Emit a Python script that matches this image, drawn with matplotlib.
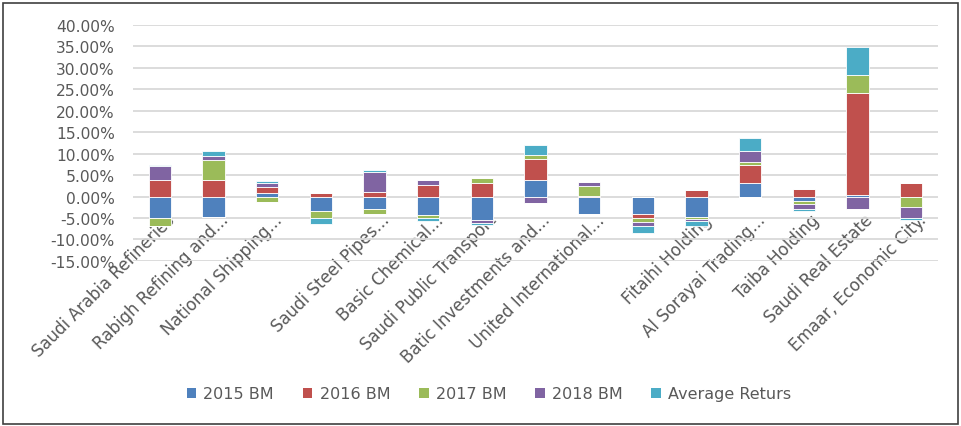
import numpy as np
import matplotlib
matplotlib.use("Agg")
import matplotlib.pyplot as plt
import matplotlib.transforms as mtransforms
from matplotlib.patches import Patch, Rectangle
from matplotlib.ticker import FuncFormatter

# ==============================
# Data (values in %)
# ==============================
companies = ["Saudi Arabia Refineries", "Rabigh Refining and...", "National Shipping...", "",
             "Saudi Steel Pipes...", "Basic Chemical...", "Saudi Public Transport",
             "Batic Investments and...", "United International...", "", "Fitaihi Holding",
             "Al Sorayai Trading...", "Taiba Holding", "Saudi Real Estate", "Emaar, Economic City."]

bm_2015 = [-5.0, -4.8, 0.9, -3.3, -3.0, -4.3, -5.5, 3.9, -4.0, -4.0, -4.7, 3.1, -1.1, 0.45, 0.0]
bm_2016 = [3.8, 3.8, 1.3, 0.9, 1.0, 2.8, 3.1, 4.75, 0.2, -1.0, 1.6, 4.3, 1.8, 23.6, 3.2]
bm_2017 = [-1.8, 4.75, -1.2, -1.75, -1.1, -0.75, 1.25, 1.1, 2.3, -1.0, -0.5, 0.6, -0.65, 4.3, -2.4]
bm_2018 = [3.4, 0.8, 0.95, 0.0, 4.7, 1.15, -0.7, -1.6, 0.8, -0.9, -0.4, 2.7, -1.2, -2.9, -2.6]
avg_returns = [0.2, 1.25, 0.45, -1.35, 0.4, -0.7, -0.4, 2.3, -0.15, -1.6, -1.15, 2.9, -0.5, 6.6, -0.45]

series_names = ["2015 BM", "2016 BM", "2017 BM", "2018 BM", "Average Returs"]
colors = ["#4F81BD", "#C0504D", "#9BBB59", "#8064A2", "#4BACC6"]

# ==============================
# Figure
# ==============================
plt.rcParams['font.family'] = ['DejaVu Sans']
fig = plt.figure(figsize=(9.62, 4.27), dpi=100)
ax = fig.add_axes([133 / 962, 1 - 261.9 / 427, 805 / 962, 236 / 427])

x = np.arange(len(companies))
pos_base = np.zeros(len(companies))
neg_base = np.zeros(len(companies))
for vals, name, col in zip([bm_2015, bm_2016, bm_2017, bm_2018, avg_returns], series_names, colors):
    v = np.array(vals)
    pos = np.where(v > 0, v, 0)
    neg = np.where(v < 0, v, 0)
    ax.bar(x, pos, bottom=pos_base, width=0.41, color=col, edgecolor="white", linewidth=0.6, zorder=3)
    ax.bar(x, neg, bottom=neg_base, width=0.41, color=col, edgecolor="white", linewidth=0.6, zorder=3)
    pos_base += pos
    neg_base += neg

ax.set_xlim(-0.5, len(companies) - 0.5)
ax.set_ylim(-15, 40)
ax.set_yticks(np.arange(-15, 41, 5))
ax.yaxis.set_major_formatter(FuncFormatter(lambda v, p: f"{v:.2f}%"))
ax.grid(axis="y", color="#d9d9d9", linewidth=1.3, zorder=0)
ax.set_axisbelow(True)

for s in ["top", "right", "left"]:
    ax.spines[s].set_visible(False)
# category labels sit under the zero line, like Excel
ax.spines["bottom"].set_position(("data", 0))
ax.spines["bottom"].set_visible(False)

ax.set_xticks(x)
ax.set_xticklabels(companies)
ax.tick_params(axis="x", length=0, pad=10, labelsize=12, labelcolor="#595959")
ax.tick_params(axis="y", length=0, pad=13, labelsize=11.2, labelcolor="#595959")
shift = mtransforms.ScaledTranslation(6 / 100, 0, fig.dpi_scale_trans)
for lab in ax.get_xticklabels():
    lab.set_rotation(45)
    lab.set_ha("right")
    lab.set_rotation_mode("anchor")
    lab.set_transform(lab.get_transform() + shift)

handles = [Patch(facecolor=c, edgecolor="none") for c in colors]
fig.legend(handles, series_names, loc="center", bbox_to_anchor=(489 / 962, 1 - 395 / 427),
           ncol=5, frameon=False, fontsize=11.5, labelcolor="#595959",
           handlelength=0.6, handleheight=0.6, handletextpad=0.45, columnspacing=1.8)

fig.patches.append(Rectangle((2.5 / 962, 2.5 / 427), 956 / 962, 421 / 427, transform=fig.transFigure,
                             fill=False, edgecolor="#3f3f3f", linewidth=1.2))

fig.savefig("out.png", dpi=100)
